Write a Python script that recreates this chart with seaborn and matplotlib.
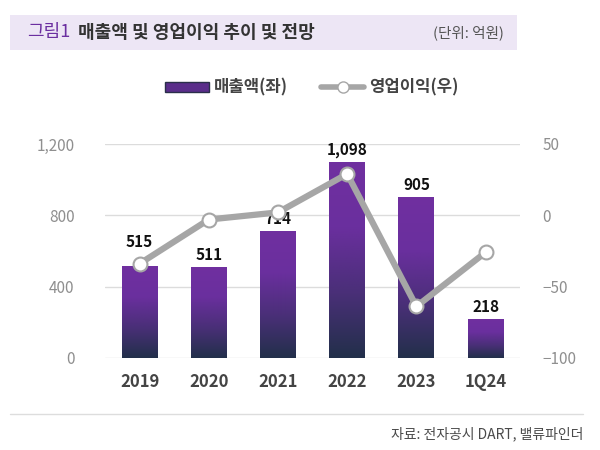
import numpy as np
import pandas as pd
import matplotlib.pyplot as plt
import seaborn as sns
from matplotlib.patches import Rectangle
from matplotlib.colors import LinearSegmentedColormap
from matplotlib.lines import Line2D

sns.set_theme(style="white")
plt.rcParams['font.family'] = ['Noto Sans CJK KR', 'DejaVu Sans']

# data (억원)
years = ["2019", "2020", "2021", "2022", "2023", "1Q24"]
sales = [515, 511, 714, 1098, 905, 218]
op_profit = [-34, -3, 2, 29, -64, -26]

df = pd.DataFrame({"year": years, "sales": sales, "op": op_profit})

fig = plt.figure(figsize=(6, 4.5), dpi=100)
ax = fig.add_axes([0.175, 0.205, 0.692, 0.475])

sns.barplot(data=df, x="year", y="sales", ax=ax, width=0.52, color="#6a2f9e",
            saturation=1)

# gradient fill for each bar
cmap = LinearSegmentedColormap.from_list("g", ["#22304a", "#4a2f78", "#6a2f9e", "#7030a0"])
grad = np.linspace(0, 1, 256).reshape(-1, 1)
for p in ax.patches:
    x0, y0 = p.get_x(), p.get_y()
    w, h = p.get_width(), p.get_height()
    im = ax.imshow(grad, cmap=cmap, origin="lower", aspect="auto",
                   extent=[x0, x0 + w, y0, y0 + h], zorder=2)
    im.set_clip_path(p)
    p.set_facecolor("none")
    p.set_edgecolor("none")

# value labels; 2019 label lifted above the line marker
for i, v in enumerate(sales):
    off = 90 if i == 0 else 22
    ax.text(i, v + off, f"{v:,}", ha="center", va="bottom", fontsize=11,
            fontweight="bold", color="#111111", zorder=6)

ax.set_xlim(-0.5, 5.5)
ax.set_ylim(0, 1200)
ax.set_yticks([0, 400, 800, 1200])
ax.set_yticklabels(["0", "400", "800", "1,200"])
ax.grid(axis="y", color="#dcdcdc", linewidth=1)
ax.set_axisbelow(True)
ax.set_xlabel("")
ax.set_ylabel("")
for s in ax.spines.values():
    s.set_visible(False)
ax.tick_params(axis="y", length=0, labelsize=11, labelcolor="#8f8f8f", pad=22)
ax.tick_params(axis="x", length=0, labelsize=12, labelcolor="#444444", pad=11)
for t in ax.get_xticklabels():
    t.set_fontweight("bold")

ax2 = ax.twinx()
ax2.plot(range(len(years)), op_profit, color="#a6a6a6", linewidth=4.5,
         marker="o", markersize=10, markerfacecolor="white",
         markeredgecolor="#a6a6a6", markeredgewidth=1.5, zorder=5)
ax2.set_ylim(-100, 50)
ax2.set_yticks([-100, -50, 0, 50])
ax2.set_yticklabels(["\u2212100", "\u221250", "0", "50"])
for s in ax2.spines.values():
    s.set_visible(False)
ax2.tick_params(axis="y", length=0, labelsize=11, labelcolor="#8f8f8f", pad=16)
ax2.grid(False)

# legend
handles = [Rectangle((0, 0), 1, 1, facecolor="#5a2d8a", edgecolor="#2a2f4a"),
           Line2D([0], [0], color="#a6a6a6", linewidth=4, marker="o", markersize=8,
                  markerfacecolor="white", markeredgecolor="#a6a6a6")]
fig.legend(handles, ["매출액(좌)", "영업이익(우)"], loc="center", bbox_to_anchor=(0.52, 0.805),
           ncol=2, frameon=False, handlelength=2.6, handleheight=0.6,
           columnspacing=2.0, handletextpad=0.3,
           prop={"weight": "bold", "size": 12})
for t in fig.legends[0].get_texts():
    t.set_color("#444444")

# title band
fig.patches.append(Rectangle((0.017, 0.889), 0.845, 0.078, transform=fig.transFigure,
                             facecolor="#ede6f5", edgecolor="none", zorder=0))
fig.text(0.045, 0.928, "그림1", fontsize=13, color="#6b2fa0", va="center")
fig.text(0.13, 0.928, "매출액 및 영업이익 추이 및 전망", fontsize=13, fontweight="bold",
         color="#333333", va="center")
fig.text(0.84, 0.928, "(단위: 억원)", fontsize=10.5, color="#555555", va="center", ha="right")

# bottom rule and source
fig.add_artist(Line2D([0.017, 0.972], [0.08, 0.08], transform=fig.transFigure,
                      color="#dddddd", linewidth=1))
fig.text(0.972, 0.036, "자료: 전자공시 DART, 밸류파인더", fontsize=10, color="#4a4a4a",
         ha="right", va="center")

fig.savefig("out.png", dpi=100)
